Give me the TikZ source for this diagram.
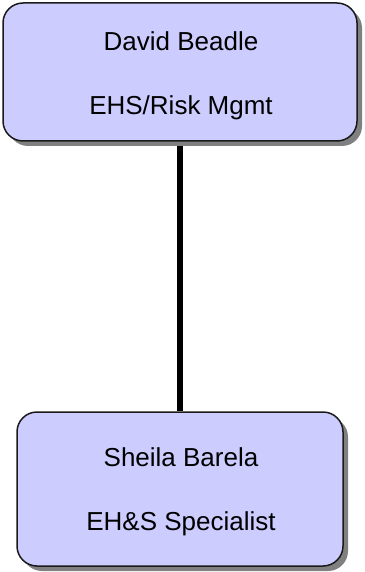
\documentclass[tikz,border=0pt]{standalone}
\usepackage{fontspec}
\setmainfont{Liberation Sans}
\usetikzlibrary{shadows,backgrounds}
\definecolor{boxfill}{HTML}{CCCCFF}
\definecolor{boxline}{HTML}{1A1A1A}
\definecolor{shadowgray}{HTML}{808080}
\tikzset{
  person/.style={draw=boxline, line width=1.5pt, fill=boxfill, rounded corners=20pt,
    inner sep=0pt,
    drop shadow={shadow xshift=5pt, shadow yshift=-5pt, fill=shadowgray, opacity=1}},
  txt/.style={anchor=base, inner sep=0pt, font=\fontsize{26}{30}\selectfont},
  link/.style={line width=5.5pt, black}
}
\begin{document}
\begin{tikzpicture}[x=1pt,y=-1pt]
\useasboundingbox (0,0) rectangle (364,572);
\node[person, minimum width=354pt, minimum height=138pt] (top) at (180,72) {};
\node[person, minimum width=326pt, minimum height=154pt] (bot) at (180,489) {};
\node[txt] (topname) at (181,51) {David Beadle};
\node[txt] (toprole) at (181,115) {EHS/Risk Mgmt};
\node[txt] (botname) at (181,466) {Sheila Barela};
\node[txt] (botrole) at (181,530) {EH\&S Specialist};
\begin{scope}[on background layer]
\draw[link] (top.south) -- (bot.north);
\end{scope}
\end{tikzpicture}
\end{document}
